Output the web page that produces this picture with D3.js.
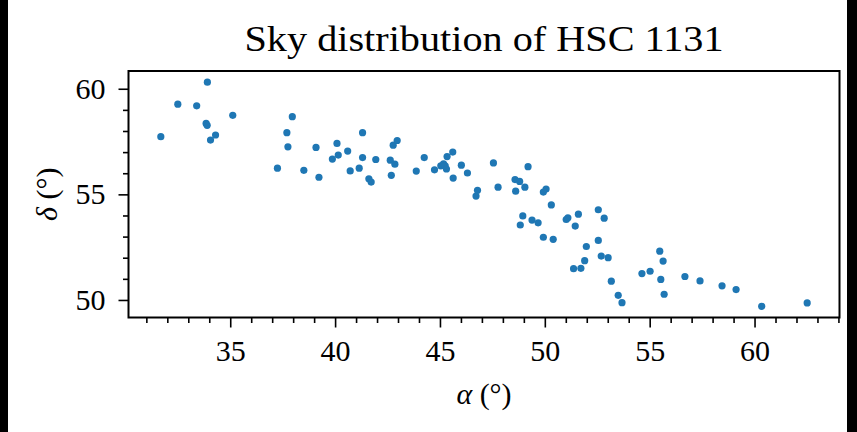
<!DOCTYPE html>
<html><head><meta charset="utf-8">
<script src="https://cdn.jsdelivr.net/npm/d3@7"></script>
<style>html,body{margin:0;padding:0;background:#fff;}svg{display:block;}</style>
</head><body>
<script>
const ra = [31.69,32.50,33.40,33.91,33.85,33.90,34.06,34.30,35.12,37.25,37.70,37.75,37.96,38.51,39.09,39.23,39.87,40.09,40.15,40.60,40.72,41.15,41.31,41.31,41.61,41.72,41.94,42.63,42.85,42.68,42.77,42.96,43.87,44.25,44.74,45.04,45.17,45.25,45.31,45.34,45.61,45.63,46.02,46.31,47.55,47.77,46.72,46.79,48.58,48.80,48.61,49.05,49.20,49.93,50.06,50.31,48.95,48.83,49.39,49.68,49.93,50.40,51.02,51.10,51.60,51.45,52.55,52.83,52.55,51.98,51.90,51.37,51.72,52.69,53.02,53.17,53.50,53.68,54.63,55.02,55.48,55.64,55.53,55.69,56.68,57.40,58.45,59.12,60.34,62.51];
const dec = [57.73,59.27,59.19,60.31,58.36,58.27,57.57,57.81,58.74,56.24,57.92,57.25,58.68,56.14,57.22,55.81,56.67,57.41,56.86,57.05,56.11,56.24,57.92,56.74,55.74,55.58,56.65,56.62,56.43,55.90,57.33,57.55,56.10,56.74,56.16,56.35,56.44,56.35,56.20,56.79,57.00,55.77,56.38,56.01,56.49,55.34,54.92,55.19,55.70,55.61,55.15,55.34,56.31,55.11,55.25,54.50,53.98,53.55,53.78,53.65,52.97,52.87,53.81,53.89,54.06,53.50,54.27,53.87,52.82,52.53,51.86,51.48,51.50,52.08,52.00,50.89,50.22,49.87,51.25,51.36,52.31,51.84,50.97,50.27,51.11,50.90,50.67,50.49,49.70,49.86];
const xTicks = [35,40,45,50,55,60];
const yTicks = [50,55,60];
const title = "Sky distribution of HSC 1131";
const xLabel = ["α", " (°)"];
const yLabel = ["δ", " (°)"];

const W = 857, H = 432;
const m = {l:128.5, r:839.5, t:71, b:317.5};
const svg = d3.select("body").append("svg").attr("width",W).attr("height",H);
svg.append("rect").attr("width",W).attr("height",H).attr("fill","#fff");
svg.append("rect").attr("x",0).attr("y",0).attr("width",8).attr("height",H).attr("fill","#000");
svg.append("rect").attr("x",847).attr("y",0).attr("width",W-847).attr("height",H).attr("fill","#000");

function pad(ext){const d=(ext[1]-ext[0])*0.05;return [ext[0]-d,ext[1]+d];}
const x = d3.scaleLinear().domain(pad(d3.extent(ra))).range([m.l,m.r]);
const y = d3.scaleLinear().domain(pad(d3.extent(dec))).range([m.b,m.t]);
const font = "'Liberation Serif','DejaVu Serif',serif";

const pts = ra.map((a,i)=>({a, d:dec[i]}));
svg.append("g").selectAll("circle").data(pts).join("circle")
  .attr("cx",p=>x(p.a)).attr("cy",p=>y(p.d)).attr("r",3.6).attr("fill","#1f77b4");

const xMinor = d3.range(Math.ceil(x.domain()[0]), Math.floor(x.domain()[1])+1).filter(v=>!xTicks.includes(v));
const yMinor = d3.range(Math.ceil(y.domain()[0]), Math.floor(y.domain()[1])+1).filter(v=>!yTicks.includes(v));

const gx = svg.append("g").attr("transform",`translate(0,${m.b})`)
  .call(d3.axisBottom(x).tickValues(xTicks).tickSize(10).tickPadding(12).tickFormat(d3.format("d")));
const gxm = svg.append("g").attr("transform",`translate(0,${m.b})`)
  .call(d3.axisBottom(x).tickValues(xMinor).tickSize(5.5).tickFormat(""));
const gy = svg.append("g").attr("transform",`translate(${m.l},0)`)
  .call(d3.axisLeft(y).tickValues(yTicks).tickSize(10).tickPadding(13).tickFormat(d3.format("d")));
const gym = svg.append("g").attr("transform",`translate(${m.l},0)`)
  .call(d3.axisLeft(y).tickValues(yMinor).tickSize(5.5).tickFormat(""));
[gx,gxm,gy,gym].forEach(g=>{g.select(".domain").remove();g.selectAll("line").attr("stroke","#000").attr("stroke-width",1.6);});
[gx,gy].forEach(g=>g.selectAll("text").attr("font-family",font).attr("font-size",30).attr("fill","#000"));
gx.selectAll("text").attr("dy","0.71em");

svg.append("rect").attr("x",m.l).attr("y",m.t).attr("width",m.r-m.l).attr("height",m.b-m.t)
  .attr("fill","none").attr("stroke","#000").attr("stroke-width",2);

svg.append("text").attr("x",(m.l+m.r)/2).attr("y",51).attr("text-anchor","middle")
  .attr("font-family",font).attr("font-size",36).attr("textLength",479).attr("lengthAdjust","spacingAndGlyphs").text(title);
const xl = svg.append("text").attr("x",(m.l+m.r)/2).attr("y",404).attr("text-anchor","middle")
  .attr("font-family",font).attr("font-size",30);
xl.append("tspan").attr("font-style","italic").text(xLabel[0]);
xl.append("tspan").text(xLabel[1]);
const yl = svg.append("text").attr("transform",`translate(57,${(m.t+m.b)/2}) rotate(-90)`).attr("text-anchor","middle")
  .attr("font-family",font).attr("font-size",30);
yl.append("tspan").attr("font-style","italic").text(yLabel[0]);
yl.append("tspan").text(yLabel[1]);
</script>
</body></html>
